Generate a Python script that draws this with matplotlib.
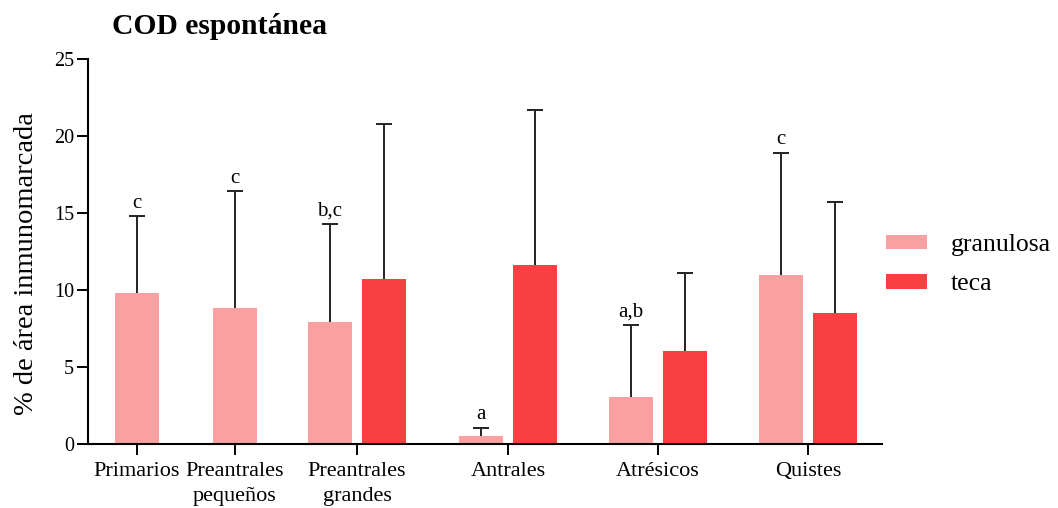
import matplotlib
matplotlib.use('Agg')
import matplotlib.pyplot as plt
import numpy as np

# ── Data ──────────────────────────────────────────────────────────────────────
categories = ['Primarios', 'Preantrales\npequeños', 'Preantrales\ngrandes',
              'Antrales', 'Atrésicos', 'Quistes']
granulosa = [9.8, 8.8, 7.9, 0.55, 3.05, 11.0]
granulosa_err = [5.0, 7.6, 6.4, 0.5, 4.65, 7.9]
teca = [np.nan, np.nan, 10.7, 11.6, 6.05, 8.5]
teca_err = [np.nan, np.nan, 10.1, 10.1, 5.05, 7.2]
letters = ['c', 'c', 'b,c', 'a', 'a,b', 'c']

# ── Layout (pixel-like x units) ───────────────────────────────────────────────
group_x = np.array([137, 235, 357, 508, 658, 808])
bar_w = 44
has_teca = ~np.isnan(teca)
g_x = np.where(has_teca, group_x - 27, group_x)
t_x = group_x + 27

c_gran = '#FAA0A0'
c_teca = '#F64042'

plt.rcParams['font.family'] = ['Liberation Serif', 'DejaVu Serif']

fig = plt.figure(figsize=(10.58, 5.08), dpi=100)
ax = fig.add_axes([88 / 1058, 64 / 508, (882 - 88) / 1058, (444 - 59) / 508])

ax.bar(g_x, granulosa, bar_w, color=c_gran, label='granulosa', zorder=2)
ax.bar(t_x[has_teca], np.array(teca)[has_teca], bar_w, color=c_teca,
       label='teca', zorder=2)


def up_errors(xs, vals, errs):
    # one-sided (upward) error bars, lower cap hidden
    eb = ax.errorbar(xs, vals, yerr=[np.zeros(len(xs)), errs], fmt='none',
                     ecolor='#222222', elinewidth=1.4, capsize=5.5,
                     capthick=1.4, zorder=1)
    eb[1][0].set_visible(False)


up_errors(g_x, granulosa, granulosa_err)
up_errors(t_x[has_teca], np.array(teca)[has_teca], np.array(teca_err)[has_teca])

for x, v, e, s in zip(g_x, granulosa, granulosa_err, letters):
    ax.annotate(s, (x, v + e), xytext=(0, 2.5), textcoords='offset points',
                ha='center', va='bottom', fontsize=15)

ax.set_xlim(88, 882)
ax.set_ylim(0, 25)
ax.set_yticks([0, 5, 10, 15, 20, 25])
ax.set_xticks(group_x)
ax.set_xticklabels(categories, fontsize=16, linespacing=1.4)
ax.tick_params(axis='y', labelsize=14.5, length=8, width=1.4, pad=2)
ax.tick_params(axis='x', length=8, width=1.4, pad=5)

for sp in ['top', 'right']:
    ax.spines[sp].set_visible(False)
for sp in ['left', 'bottom']:
    ax.spines[sp].set_linewidth(1.5)

fig.text(27 / 1058, 1 - 264 / 508, '% de área inmunomarcada', fontsize=20.5,
         rotation=90, ha='center', va='center')
fig.text(112 / 1058, 1 - 27 / 508, 'COD espontánea', fontsize=21.3,
         fontweight='bold', va='center', ha='left')

fig.legend(loc='upper left', bbox_to_anchor=(886 / 1058, 1 - 234 / 508),
           frameon=False, fontsize=18.5, handlelength=1.58, handleheight=0.5,
           labelspacing=0.68, handletextpad=0.95, borderpad=0, borderaxespad=0)

plt.savefig('out.png', dpi=100)
plt.close()
